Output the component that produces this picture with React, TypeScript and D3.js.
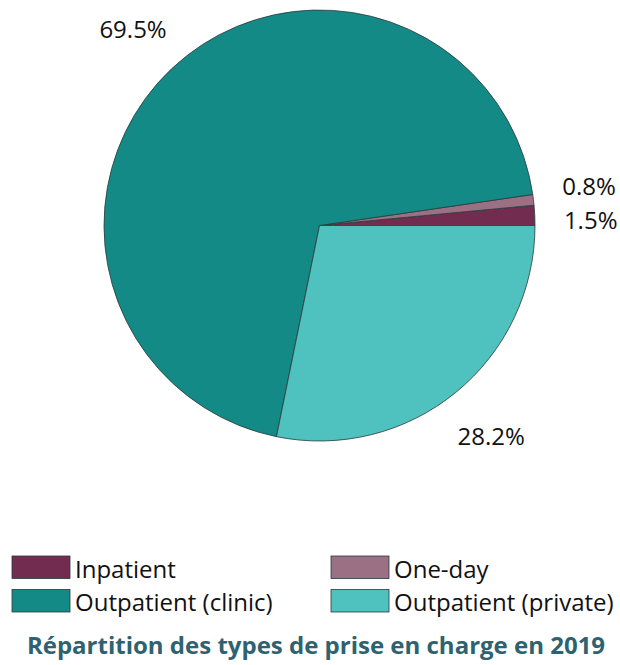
import React, { useRef, useEffect } from 'react';
import * as d3 from 'd3';

const categories = ['Inpatient', 'One-day', 'Outpatient (clinic)', 'Outpatient (private)'];
const shares = [1.5, 0.8, 69.5, 28.2];
const colors = ['#722C4F', '#9B7085', '#148A86', '#4FC1BF'];
const chartTitle = 'Répartition des types de prise en charge en 2019';

interface Slice {
    label: string;
    value: number;
    color: string;
}

const data: Slice[] = categories.map((c, i) => ({ label: c, value: shares[i], color: colors[i] }));

const W = 620;
const H = 665;
const FONT = '"Open Sans", "Noto Sans", sans-serif';

const PieChart: React.FC = () => {
    const svgRef = useRef<SVGSVGElement>(null);

    useEffect(() => {
        if (!svgRef.current) return;
        const svg = d3.select(svgRef.current);
        svg.selectAll('*').remove();

        const cx = 319.5;
        const cy = 225.5;
        const r = 215.5;

        // slices go counter-clockwise from 3 o'clock, in data order
        const pie = d3.pie<Slice>()
            .value(d => d.value)
            .sort(null)
            .startAngle(Math.PI / 2)
            .endAngle(Math.PI / 2 - 2 * Math.PI);

        const arcs = pie(data);
        const arc = d3.arc<d3.PieArcDatum<Slice>>().innerRadius(0).outerRadius(r);

        const g = svg.append('g').attr('transform', `translate(${cx},${cy})`);

        g.selectAll('path.slice')
            .data(arcs)
            .enter().append('path')
            .attr('class', 'slice')
            .attr('d', arc)
            .attr('fill', d => d.data.color)
            .attr('stroke', '#2a3a3a')
            .attr('stroke-width', 0.8)
            .attr('stroke-linejoin', 'round');

        // labels outside, centred on a wider ring
        const labelR = r + 56;
        const labels = arcs.map(a => {
            const mid = (a.startAngle + a.endAngle) / 2;
            return {
                text: `${a.data.value.toFixed(1)}%`,
                x: Math.sin(mid) * labelR,
                y: -Math.cos(mid) * labelR,
            };
        });

        // push apart labels that collide vertically on the same side
        const minGap = 34;
        for (const side of [1, -1]) {
            const grp = labels.filter(l => Math.sign(l.x) === side).sort((a, b) => a.y - b.y);
            for (let iter = 0; iter < 20; iter++) {
                for (let i = 1; i < grp.length; i++) {
                    const a = grp[i - 1];
                    const b = grp[i];
                    if (Math.abs(b.x - a.x) < 80 && b.y - a.y < minGap) {
                        const push = (minGap - (b.y - a.y)) / 2;
                        a.y -= push;
                        b.y += push;
                    }
                }
            }
        }

        g.selectAll('text.lbl')
            .data(labels)
            .enter().append('text')
            .attr('class', 'lbl')
            .attr('x', d => d.x)
            .attr('y', d => d.y)
            .attr('text-anchor', 'middle')
            .attr('dominant-baseline', 'central')
            .attr('font-family', FONT)
            .attr('font-size', 24)
            .attr('fill', '#111')
            .text(d => d.text);

        // legend: 2 columns
        const colX = d3.scaleOrdinal<number, number>().domain([0, 1]).range([12, 331]);
        const rowY = d3.scaleOrdinal<number, number>().domain([0, 1]).range([556, 589.5]);
        const sw = 58;
        const sh = 22.5;

        const leg = svg.append('g');
        const items = leg.selectAll('g.item')
            .data(data)
            .enter().append('g')
            .attr('class', 'item')
            .attr('transform', (_d, i) => `translate(${colX(i % 2)},${rowY(Math.floor(i / 2))})`);

        items.append('rect')
            .attr('width', sw)
            .attr('height', sh)
            .attr('fill', d => d.color)
            .attr('stroke', '#2a3a3a')
            .attr('stroke-width', 0.8);

        items.append('text')
            .attr('x', sw + 5)
            .attr('y', sh / 2 + 1)
            .attr('dominant-baseline', 'central')
            .attr('font-family', FONT)
            .attr('font-size', 24)
            .attr('fill', '#111')
            .text(d => d.label);

        svg.append('text')
            .attr('x', W / 2 + 6)
            .attr('y', 644)
            .attr('text-anchor', 'middle')
            .attr('dominant-baseline', 'central')
            .attr('font-family', FONT)
            .attr('font-weight', 'bold')
            .attr('font-size', 24)
            .attr('fill', '#2E6270')
            .text(chartTitle);
    }, []);

    return (
        <svg
            ref={svgRef}
            width={W}
            height={H}
            viewBox={`0 0 ${W} ${H}`}
            style={{ position: 'absolute', left: 0, top: 0, background: '#fff' }}
        />
    );
};

export default function App() {
    return <PieChart />;
}
